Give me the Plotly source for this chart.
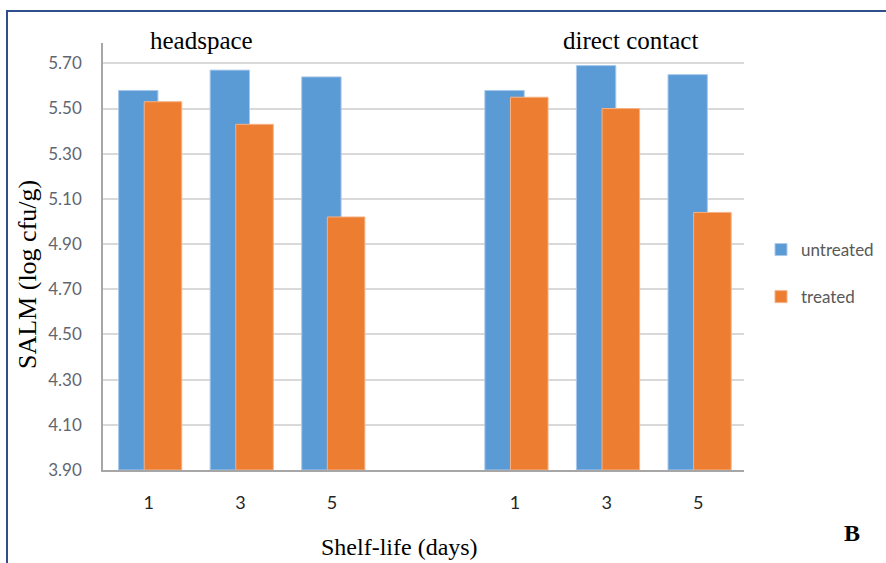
import plotly.graph_objects as go

# Salmonella counts (log cfu/g) over shelf-life, two exposure modes
days = ["1", "3", "5"]
groups = ["headspace", "direct contact"]
untreated = {"headspace": [5.58, 5.67, 5.64], "direct contact": [5.58, 5.69, 5.65]}
treated = {"headspace": [5.53, 5.43, 5.02], "direct contact": [5.55, 5.50, 5.04]}
y_ticks = [3.90, 4.10, 4.30, 4.50, 4.70, 4.90, 5.10, 5.30, 5.50, 5.70]

# each group occupies 3 slots, with one empty slot between groups
xs, tick_text, unt_vals, trt_vals = [], [], [], []
for gi, g in enumerate(groups):
    for di, d in enumerate(days):
        xs.append(gi * 4 + di)
        tick_text.append(d)
        unt_vals.append(untreated[g][di])
        trt_vals.append(treated[g][di])

BLUE = "#5B9BD5"
ORANGE = "#ED7D31"
BASE = 3.90

fig = go.Figure()
fig.add_trace(go.Bar(
    x=xs, y=[v - BASE for v in unt_vals], base=BASE, name="untreated",
    width=0.43, offset=-0.33,
    marker=dict(color=BLUE, line=dict(color="#a9c9ec", width=1)),
    legendgroup="u",
))
fig.add_trace(go.Bar(
    x=xs, y=[v - BASE for v in trt_vals], base=BASE, name="treated",
    width=0.41, offset=-0.05,
    marker=dict(color=ORANGE, line=dict(color="#f5b286", width=1)),
    legendgroup="t",
))

# plot-area geometry in pixels
W, H = 886, 563
L, R, T, B = 103, 744, 43, 470
pw, ph = R - L, B - T


def px(x):
    return (x - L) / pw


def py(y):
    return (B - y) / ph


serif = "Liberation Serif"
sans = "Lato"

annotations = [
    dict(text="headspace", x=px(201), y=py(40), showarrow=False,
         font=dict(family=serif, size=25, color="#000000")),
    dict(text="direct contact", x=px(630), y=py(40), showarrow=False,
         font=dict(family=serif, size=25, color="#000000")),
    dict(text="SALM (log cfu/g)", x=px(27), y=py(275), showarrow=False, textangle=-90,
         font=dict(family=serif, size=26, color="#000000")),
    dict(text="Shelf-life (days)", x=px(399), y=py(547), showarrow=False,
         font=dict(family=serif, size=24, color="#000000")),
    dict(text="<b>B</b>", x=px(852), y=py(533), showarrow=False,
         font=dict(family=serif, size=24, color="#000000")),
]
for a in annotations:
    a.update(xref="paper", yref="paper", xanchor="center", yanchor="middle")

fig.update_layout(
    width=W, height=H,
    margin=dict(l=L, r=W - R, t=T, b=H - B, pad=0, autoexpand=False),
    paper_bgcolor="white", plot_bgcolor="white",
    barmode="overlay",
    showlegend=True,
    legend=dict(x=px(761), y=py(232), xanchor="left", yanchor="top",
                font=dict(family=sans, size=17, color="#595959"),
                tracegroupgap=22, bgcolor="rgba(0,0,0,0)"),
    annotations=annotations,
    shapes=[dict(type="rect", xref="paper", yref="paper",
                 x0=px(7), y0=py(575), x1=px(895), y1=py(11),
                 line=dict(color="#2f4f8c", width=2), layer="above")],
    xaxis=dict(range=[-0.5, 6.5], tickvals=xs, ticktext=tick_text,
               showgrid=False, zeroline=False, showline=True,
               linecolor="#a6a6a6", linewidth=1.5, ticks="",
               ticklabelstandoff=16,
               tickfont=dict(family=sans, size=18, color="#262626")),
    yaxis=dict(range=[3.90, 5.79], tickvals=y_ticks,
               ticktext=[f"{v:.2f}" for v in y_ticks],
               showgrid=True, gridcolor="#d9d9d9", gridwidth=1.5,
               zeroline=False, showline=True, linecolor="#a6a6a6", linewidth=1.5,
               ticks="", ticklabelstandoff=16,
               tickfont=dict(family=sans, size=17, color="#5f6670")),
)

fig.write_html("out.html")
